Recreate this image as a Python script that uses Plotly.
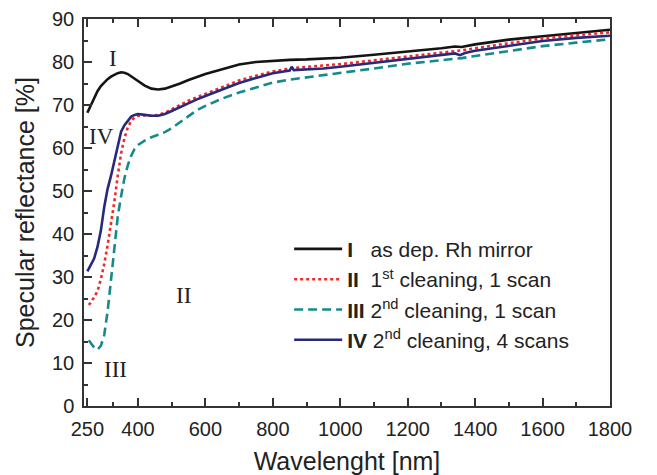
import plotly.graph_objects as go

# ---------------- data ----------------
wl_I = [250, 260, 270, 280, 290, 300, 310, 320, 330, 340, 350, 360, 370, 380, 390, 400,
        420, 440, 460, 480, 500, 525, 550, 575, 600, 650, 700, 750, 800, 850,
        900, 950, 1000, 1100, 1200, 1300, 1340, 1360, 1400, 1500, 1600, 1700, 1800]
refl_I = [68.2, 70.0, 71.8, 73.2, 74.4, 75.3, 76.0, 76.6, 77.1, 77.4, 77.6, 77.5, 77.2, 76.7, 76.1, 75.5,
          74.5, 73.8, 73.6, 73.8, 74.3, 75.0, 75.8, 76.5, 77.2, 78.3, 79.4, 80.0, 80.3, 80.5,
          80.6, 80.8, 81.0, 81.7, 82.4, 83.2, 83.6, 83.5, 84.1, 85.2, 86.0, 86.7, 87.5]

wl_II = [254, 260, 270, 280, 290, 300, 310, 320, 330, 340, 350, 360, 370, 380, 390, 400,
         420, 440, 460, 480, 500, 525, 550, 575, 600, 650, 700, 750, 800, 850,
         900, 950, 1000, 1100, 1200, 1300, 1340, 1360, 1400, 1500, 1600, 1700, 1800]
refl_II = [23.5, 24.0, 25.3, 26.7, 29.5, 33.0, 37.4, 42.0, 47.5, 53.5, 58.7, 62.3, 64.8, 66.3, 67.1, 67.5,
           67.6, 67.5, 67.7, 68.2, 69.0, 70.0, 71.0, 71.8, 72.6, 74.2, 75.7, 76.8, 77.8, 78.5,
           78.9, 79.2, 79.5, 80.4, 81.2, 82.2, 82.6, 82.7, 83.2, 84.3, 85.5, 86.2, 86.9]

wl_III = [254, 260, 270, 280, 290, 300, 310, 320, 330, 340, 350, 360, 370, 380, 390, 400,
          420, 440, 460, 480, 500, 525, 550, 575, 600, 650, 700, 750, 800, 850,
          900, 950, 1000, 1100, 1200, 1300, 1340, 1360, 1400, 1500, 1600, 1700, 1800]
refl_III = [15.3, 14.6, 13.6, 13.1, 14.0, 16.5, 22.0, 29.2, 36.5, 44.0, 48.8, 53.0, 56.0, 58.2, 59.8, 60.7,
            61.7, 62.5, 63.1, 63.7, 64.6, 66.0, 67.5, 68.8, 69.8, 71.5, 72.9, 74.0, 75.2, 75.9,
            76.4, 76.9, 77.4, 78.5, 79.6, 80.4, 80.8, 80.9, 81.4, 82.5, 83.7, 84.5, 85.3]

wl_IV = [250, 260, 270, 280, 290, 300, 310, 320, 330, 340, 350, 360, 370, 380, 390, 400,
         420, 440, 460, 480, 500, 525, 550, 575, 600, 650, 700, 750, 800, 850, 856, 862,
         900, 950, 1000, 1100, 1200, 1300, 1340, 1355, 1370, 1400, 1500, 1600, 1700, 1800]
refl_IV = [31.3, 32.8, 34.3, 37.0, 40.8, 46.3, 50.5, 53.5, 56.8, 60.5, 63.8, 65.3, 66.4, 67.3, 67.7, 67.9,
           67.7, 67.5, 67.5, 67.9, 68.6, 69.5, 70.5, 71.3, 72.1, 73.6, 75.1, 76.3, 77.4, 78.0, 78.9, 78.1,
           78.2, 78.5, 78.9, 79.8, 80.7, 81.6, 82.0, 81.6, 82.1, 82.6, 83.7, 84.9, 85.6, 86.1]

names = [
    "<b>I</b>\u00a0\u00a0\u00a0as dep. Rh mirror<sup>\u00a0</sup>",
    "<b>II</b>\u00a0\u00a01<sup>st</sup> cleaning, 1 scan",
    "<b>III</b>\u00a02<sup>nd</sup> cleaning, 1 scan",
    "<b>IV</b>\u00a02<sup>nd</sup> cleaning, 4 scans",
]

x_major = [250, 400, 600, 800, 1000, 1200, 1400, 1600, 1800]
x_minor = [325, 500, 700, 900, 1100, 1300, 1500, 1700]

curve_labels = ["I", "II", "III", "IV"]
label_x = [327, 535, 332, 293]
label_y = [80.9, 25.7, 8.5, 62.7]

# ---------------- figure ----------------
SANS = "Liberation Sans, Arial, Helvetica, sans-serif"
SERIF = "Liberation Serif, Times New Roman, serif"
AX = "#333333"

fig = go.Figure()
fig.add_trace(go.Scatter(x=wl_I, y=refl_I, mode="lines", name=names[0], legendgroup="a",
                         line=dict(color="#141414", width=2.6)))
fig.add_trace(go.Scatter(x=wl_II, y=refl_II, mode="lines", name=names[1], legendgroup="b",
                         line=dict(color="#ee2b2b", width=2.6, dash="dot")))
fig.add_trace(go.Scatter(x=wl_III, y=refl_III, mode="lines", name=names[2], legendgroup="c",
                         line=dict(color="#168a8a", width=2.6, dash="9px,5px")))
fig.add_trace(go.Scatter(x=wl_IV, y=refl_IV, mode="lines", name=names[3], legendgroup="d",
                         line=dict(color="#26297c", width=2.6)))

for t, xx, yy in zip(curve_labels, label_x, label_y):
    fig.add_annotation(x=xx, y=yy, text=t, showarrow=False,
                       font=dict(family=SERIF, size=23, color="#222"))

fig.update_layout(
    width=657, height=475,
    margin=dict(l=84, r=47, t=19, b=69, autoexpand=False),
    plot_bgcolor="white", paper_bgcolor="white",
    font=dict(family=SANS, color="#222"),
    showlegend=True,
    legend=dict(x=0.39, y=0.458, xanchor="left", yanchor="top",
                bgcolor="rgba(0,0,0,0)", font=dict(family=SANS, size=21, color="#222"),
                itemwidth=48, tracegroupgap=2, traceorder="normal"),
)

fig.update_xaxes(
    range=[240, 1800], tickmode="array", tickvals=x_major, automargin=False,
    ticks="inside", ticklen=8, tickwidth=1.5, tickcolor=AX,
    showline=True, linecolor=AX, linewidth=1.5, mirror="ticks",
    showgrid=False, zeroline=False,
    minor=dict(tickmode="array", tickvals=x_minor, ticks="inside", ticklen=4,
               tickwidth=1.5, tickcolor=AX, showgrid=False),
    tickfont=dict(family=SANS, size=20, color="#222"),
    ticklabelstandoff=4,
    title=dict(text="Wavelenght [nm]", font=dict(family=SANS, size=25, color="#222"), standoff=14),
)
fig.update_yaxes(
    range=[0, 90], tickmode="linear", tick0=0, dtick=10, automargin=False,
    ticks="inside", ticklen=8, tickwidth=1.5, tickcolor=AX,
    showline=True, linecolor=AX, linewidth=1.5, mirror=True,
    showgrid=False, zeroline=False,
    minor=dict(tickmode="linear", tick0=5, dtick=10, ticks="inside", ticklen=4,
               tickwidth=1.5, tickcolor=AX, showgrid=False),
    tickfont=dict(family=SANS, size=20, color="#222"),
    ticklabelstandoff=4,
    title=dict(text="Specular reflectance [%]", font=dict(family=SANS, size=25, color="#222"), standoff=10),
)

fig.write_html("out.html")
